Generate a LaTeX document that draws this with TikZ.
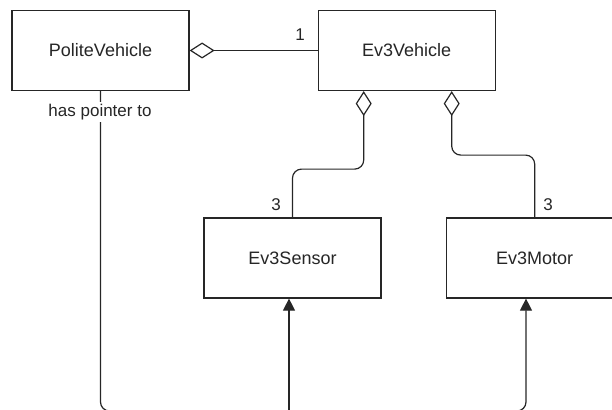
\documentclass[tikz,border=0pt]{standalone}
\usepackage{fontspec}
\setmainfont{Liberation Sans}
\usetikzlibrary{arrows.meta, positioning, calc}
\tikzset{
  cls/.style   ={rectangle, draw=black!85, line width=1.2pt, fill=white,
                 minimum width=177pt, minimum height=80pt, align=center,
                 text=black!85, font=\fontsize{18}{21}\selectfont},
  lbl/.style   ={text=black!85, font=\fontsize{17}{20}\selectfont, inner sep=1pt},
  aggr/.style  ={{Diamond[open, length=25pt, width=16pt, line width=1.2pt]}-,
                 draw=black!85, line width=1.2pt, rounded corners=9pt},
  ptr/.style   ={-{Triangle[length=12pt, width=12pt]}, draw=black!85,
                 line width=1.2pt, rounded corners=9pt}
}

\begin{document}
\begin{tikzpicture}[x=1pt, y=-1pt]
    \useasboundingbox (0,0) rectangle (612,409);
    \node[cls] (politevehicle) at (100.5,50.5) {PoliteVehicle};
    \node[cls, right=128pt of politevehicle] (ev3vehicle) {Ev3Vehicle};
    \node[cls] (ev3sensor) at (292.5,258) {Ev3Sensor};
    \node[cls, right=64pt of ev3sensor] (ev3motor) {Ev3Motor};
    % multiplicities
    \node[lbl] (mvehicle) at (300,35) {1};
    \node[lbl] (msensor) at (276,205) {3};
    \node[lbl] (mmotor) at (548,205) {3};
    % aggregations
    \draw[aggr] (politevehicle.east) -- (ev3vehicle.west);
    \draw[aggr] ([xshift=-43pt]ev3vehicle.south) -- ++(0,78) -| (ev3sensor.north);
    \draw[aggr] ([xshift=45pt]ev3vehicle.south) -- ++(0,64) -| (ev3motor.north);
    % pointer to sensors and motors
    \coordinate (busend) at (526,411);
    \coordinate (busmid) at (289,411);
    \draw[ptr] (politevehicle.south) |- (busend) -- (busend |- ev3motor.south);
    \draw[ptr] (busmid) -- (busmid |- ev3sensor.south);
    \node[lbl, fill=white, inner sep=2pt] (haspointer) at (100,112) {has pointer to};
  \end{tikzpicture}
\end{document}
